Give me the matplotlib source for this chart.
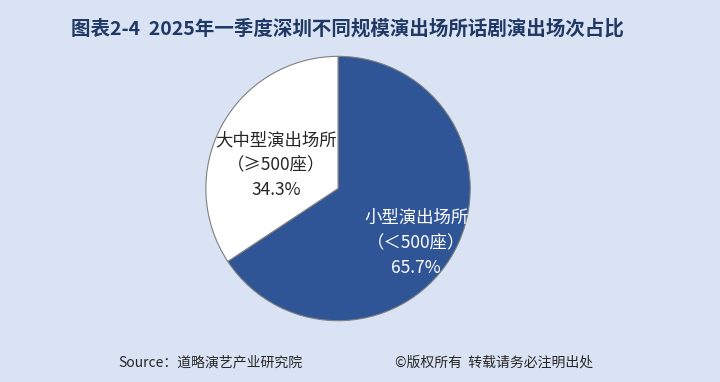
import matplotlib.pyplot as plt
import numpy as np

plt.rcParams['font.family'] = ['Noto Sans CJK SC', 'DejaVu Sans']

title = '图表2-4  2025年一季度深圳不同规模演出场所话剧演出场次占比'
labels = ['小型演出场所\n（＜500座）', '大中型演出场所\n（≥500座）']
shares = [65.7, 34.3]
colors = ['#2f5597', '#ffffff']
text_colors = ['white', '#262626']
# where the label sits, as fraction of radius
label_r = [0.72, 0.50]
label_shift = [-6.6, 7.6]

bg = '#dae3f3'
fig = plt.figure(figsize=(7.2, 3.82), dpi=100, facecolor=bg)

fig.text(0.482, 0.925, title, ha='center', va='center', fontsize=14,
         fontweight='bold', color='#1f3864')

ax = fig.add_axes([0.284, 0.157, 0.371, 0.699])
ax.set_facecolor(bg)
wedges, _ = ax.pie(shares, colors=colors, startangle=90, counterclock=False,
                   radius=1, wedgeprops=dict(edgecolor='#7f7f7f', linewidth=0.8))
ax.set_xlim(-1.01, 1.01)
ax.set_ylim(-1.01, 1.01)
ax.set_aspect('equal')
ax.axis('off')

for i, w in enumerate(wedges):
    mid = np.deg2rad((w.theta1 + w.theta2) / 2 + label_shift[i])
    x = label_r[i] * np.cos(mid)
    y = label_r[i] * np.sin(mid)
    ax.text(x, y, labels[i] + '\n' + '%.1f%%' % shares[i], ha='center', va='center',
            fontsize=12.5, color=text_colors[i], linespacing=1.5)

fig.text(0.164, 0.052, 'Source：道略演艺产业研究院', ha='left', va='center',
         fontsize=10, color='#262626')
fig.text(0.549, 0.052, '©版权所有  转载请务必注明出处', ha='left', va='center',
         fontsize=10, color='#262626')

fig.savefig('out.png', dpi=100, facecolor=bg)
